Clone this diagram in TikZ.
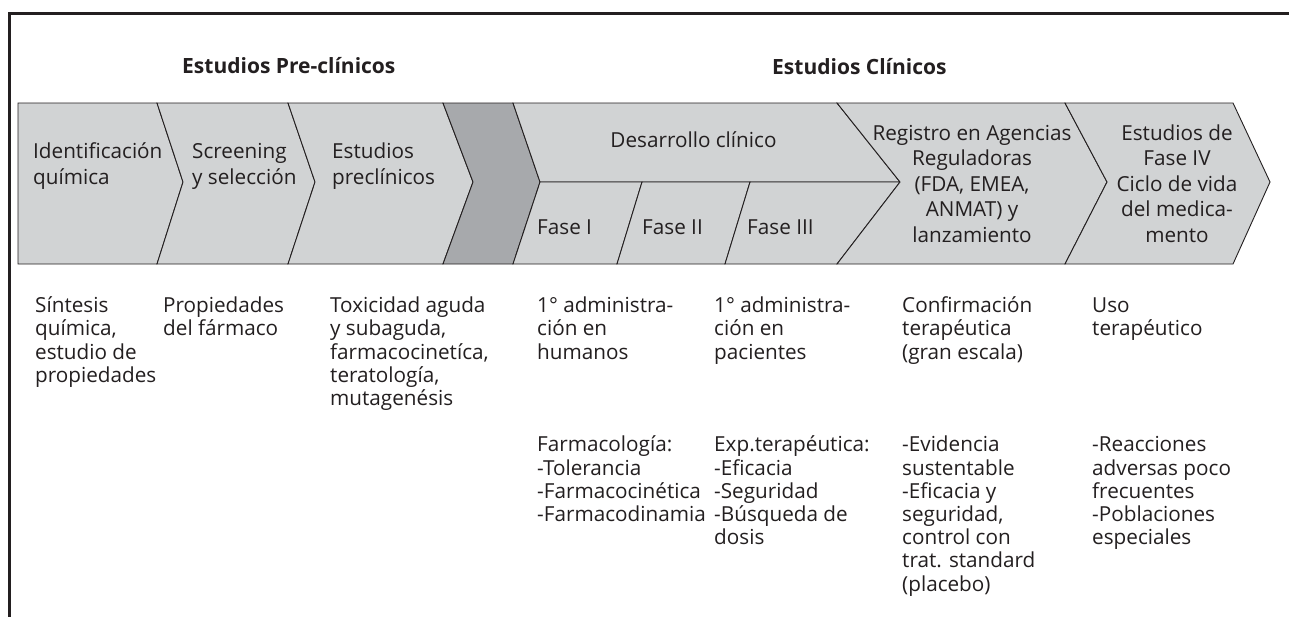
\documentclass[tikz,border=0pt]{standalone}
\usepackage{fontspec}
\setmainfont{Open Sans}
\definecolor{bandlight}{RGB}{209,211,212}
\definecolor{banddark}{RGB}{167,169,172}
\definecolor{frameline}{RGB}{35,31,32}
\begin{document}
\begin{tikzpicture}[x=1pt,y=-1pt,
  seg/.style={fill=bandlight,draw=frameline,line width=0.9pt,line join=miter},
  segdark/.style={fill=banddark,draw=frameline,line width=0.9pt},
  txt/.style={inner sep=0pt,anchor=north west,align=left,font=\fontsize{20.7}{26.7}\selectfont,text=frameline},
  ctxt/.style={inner sep=0pt,anchor=north,align=center,font=\fontsize{20.7}{25.5}\selectfont,text=frameline},
  btxt/.style={inner sep=0pt,anchor=north west,align=left,font=\fontsize{20.7}{23.2}\selectfont,text=frameline},
  onel/.style={inner sep=0pt,anchor=base west,font=\fontsize{20.7}{25}\selectfont,text=frameline},
  ttl/.style={inner sep=0pt,anchor=base west,font=\fontsize{21}{26}\selectfont\bfseries,text=frameline}]
\useasboundingbox (0,0) rectangle (1289,616);
\clip (0,0) rectangle (1289,616);
\fill[white] (0,0) rectangle (1289,616);
\draw[line width=3pt,frameline] (9,630) -- (9,13) -- (1300,13);

% titles
\node[ttl] (tpre) at (182,73) {Estudios Pre-clínicos};
\node[ttl] (tcli) at (772,74) {Estudios Clínicos};

% band shapes
\def\T{103}\def\M{182}\def\B{264}
\draw[seg] (18,\T) -- (157,\T) -- (183,\M) -- (157,\B) -- (18,\B) -- cycle;
\draw[seg] (157,\T) -- (288,\T) -- (315,\M) -- (288,\B) -- (157,\B) -- (183,\M) -- cycle;
\draw[seg] (288,\T) -- (443,\T) -- (473,\M) -- (443,\B) -- (288,\B) -- (315,\M) -- cycle;
\draw[segdark] (443,\T) -- (513,\T) -- (540,\M) -- (513,\B) -- (443,\B) -- (473,\M) -- cycle;
\draw[seg] (513,\T) -- (837,\T) -- (900,\M) -- (540,\M) -- cycle;
\draw[seg] (540,\M) -- (642,\M) -- (617,\B) -- (513,\B) -- cycle;
\draw[seg] (642,\M) -- (750,\M) -- (725,\B) -- (617,\B) -- cycle;
\draw[seg] (750,\M) -- (900,\M) -- (837,\B) -- (725,\B) -- cycle;
\draw[seg] (837,\T) -- (1065,\T) -- (1107,\M) -- (1065,\B) -- (837,\B) -- (900,\M) -- cycle;
\draw[seg] (1065,\T) -- (1233,\T) -- (1270,\M) -- (1233,\B) -- (1065,\B) -- (1107,\M) -- cycle;

% band texts
\node[txt] (ident) at (33,139.3) {\strut Identificación\\química};
\node[txt] (screen) at (192,139.3) {\strut Screening\\y selección};
\node[txt] (estpre) at (332,139.3) {\strut Estudios\\preclínicos};
\node[inner sep=0pt,anchor=base,font=\fontsize{20.7}{25}\selectfont,text=frameline] (desa) at (693.5,147) {Desarrollo clínico};
\node[onel] (f1) at (537,234) {Fase I};
\node[onel] (f2) at (642,234) {Fase II};
\node[onel] (f3) at (747,234) {Fase III};
\node[ctxt] (regis) at (972,122.2) {\strut Registro en Agencias\\Reguladoras\\(FDA, EMEA,\\ANMAT) y\\lanzamiento};
\node[ctxt] (fase4) at (1177,122.2) {\strut Estudios de\\Fase IV\\Ciclo de vida\\del medica-\\mento};

% bottom texts
\node[btxt] (c1) at (35,296.3) {\strut Síntesis\\química,\\estudio de\\propiedades};
\node[btxt] (c2) at (163,296.3) {\strut Propiedades\\del fármaco};
\node[btxt] (c3) at (330,296.3) {\strut Toxicidad aguda\\y subaguda,\\farmacocinetíca,\\teratología,\\mutagenésis};
\node[btxt] (c4) at (537,296.3) {\strut 1° administra-\\ción en\\humanos\\[69.6pt]Farmacología:\\-Tolerancia\\-Farmacocinética\\-Farmacodinamia};
\node[btxt] (c5) at (714,296.3) {\strut 1° administra-\\ción en\\pacientes\\[69.6pt]Exp.terapéutica:\\-Eficacia\\-Seguridad\\-Búsqueda de\\dosis};
\node[btxt] (c6) at (902,296.3) {\strut Confirmación\\terapéutica\\(gran escala)\\[69.6pt]-Evidencia\\sustentable\\-Eficacia y\\seguridad,\\control con\\trat. standard\\(placebo)};
\node[btxt] (c7) at (1092,296.3) {\strut Uso\\terapéutico\\[92.8pt]-Reacciones\\adversas poco\\frecuentes\\-Poblaciones\\especiales};
\end{tikzpicture}
\end{document}
